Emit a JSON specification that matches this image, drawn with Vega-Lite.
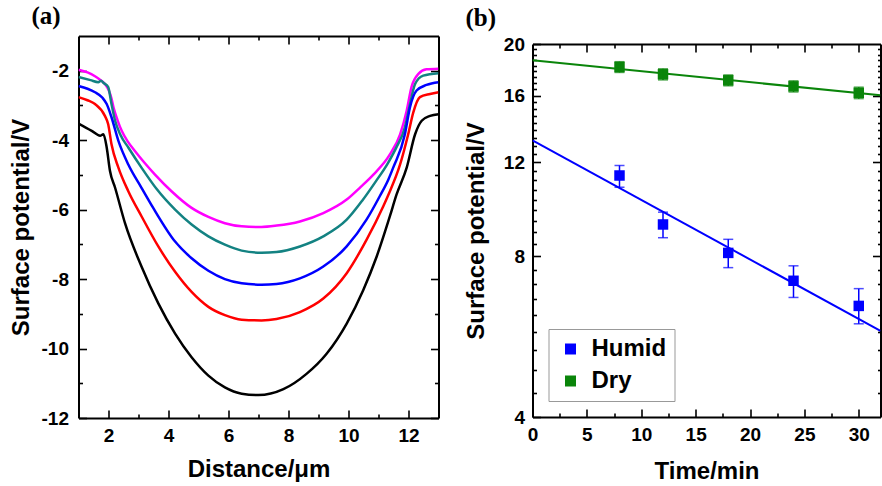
{
  "$schema": "https://vega.github.io/schema/vega-lite/v6.json",
  "padding": {"left": 8.5, "top": 4, "right": 0, "bottom": 0},
  "spacing": 24,
  "resolve": {"scale": {"color": "independent"}},
  "config": {
    "font": "Liberation Sans",
    "view": {"stroke": null},
    "axis": {"grid": false, "domainColor": "black", "domainWidth": 2, "tickColor": "black", "tickWidth": 1.6,
      "labelFont": "Liberation Sans", "labelFontSize": 19, "labelFontWeight": "bold", "labelColor": "black",
      "titleFont": "Liberation Sans", "titleFontSize": 24, "titleFontWeight": "bold", "titleColor": "black",
      "labelOverlap": false, "labelFlush": false, "labelBound": false}
  },
  "datasets": {
    "curves": [
      {"s":"magenta","x":1.0,"v":-1.97},{"s":"magenta","x":1.3,"v":-2.05},{"s":"magenta","x":1.55,"v":-2.16},{"s":"magenta","x":1.75,"v":-2.28},{"s":"magenta","x":1.88,"v":-2.38},{"s":"magenta","x":2.0,"v":-2.55},{"s":"magenta","x":2.1,"v":-2.8},{"s":"magenta","x":2.18,"v":-3.1},{"s":"magenta","x":2.3,"v":-3.42},{"s":"magenta","x":2.44,"v":-3.73},{"s":"magenta","x":2.65,"v":-4.05},{"s":"magenta","x":2.88,"v":-4.31},{"s":"magenta","x":3.2,"v":-4.65},{"s":"magenta","x":3.55,"v":-4.99},{"s":"magenta","x":4.1,"v":-5.47},{"s":"magenta","x":4.77,"v":-5.95},{"s":"magenta","x":5.33,"v":-6.21},{"s":"magenta","x":5.88,"v":-6.39},{"s":"magenta","x":6.44,"v":-6.48},{"s":"magenta","x":7.1,"v":-6.5},{"s":"magenta","x":7.61,"v":-6.46},{"s":"magenta","x":8.38,"v":-6.34},{"s":"magenta","x":9.16,"v":-6.1},{"s":"magenta","x":9.94,"v":-5.71},{"s":"magenta","x":10.4,"v":-5.35},{"s":"magenta","x":10.83,"v":-4.99},{"s":"magenta","x":11.38,"v":-4.41},{"s":"magenta","x":11.72,"v":-3.83},{"s":"magenta","x":11.94,"v":-3.15},{"s":"magenta","x":12.1,"v":-2.47},{"s":"magenta","x":12.33,"v":-2.09},{"s":"magenta","x":12.6,"v":-1.96},{"s":"magenta","x":13.0,"v":-1.94},
      {"s":"teal","x":1.0,"v":-2.18},{"s":"teal","x":1.4,"v":-2.27},{"s":"teal","x":1.66,"v":-2.33},{"s":"teal","x":1.75,"v":-2.29},{"s":"teal","x":1.85,"v":-2.36},{"s":"teal","x":1.99,"v":-2.47},{"s":"teal","x":2.1,"v":-2.96},{"s":"teal","x":2.22,"v":-3.44},{"s":"teal","x":2.4,"v":-3.85},{"s":"teal","x":2.66,"v":-4.21},{"s":"teal","x":3.1,"v":-4.79},{"s":"teal","x":3.6,"v":-5.4},{"s":"teal","x":4.22,"v":-6.0},{"s":"teal","x":4.77,"v":-6.43},{"s":"teal","x":5.33,"v":-6.77},{"s":"teal","x":5.88,"v":-7.01},{"s":"teal","x":6.44,"v":-7.18},{"s":"teal","x":7.1,"v":-7.24},{"s":"teal","x":7.6,"v":-7.22},{"s":"teal","x":8.38,"v":-7.06},{"s":"teal","x":9.16,"v":-6.77},{"s":"teal","x":9.94,"v":-6.29},{"s":"teal","x":10.45,"v":-5.75},{"s":"teal","x":10.9,"v":-5.2},{"s":"teal","x":11.3,"v":-4.68},{"s":"teal","x":11.6,"v":-4.2},{"s":"teal","x":11.88,"v":-3.63},{"s":"teal","x":12.05,"v":-2.96},{"s":"teal","x":12.22,"v":-2.38},{"s":"teal","x":12.49,"v":-2.14},{"s":"teal","x":13.0,"v":-2.07},
      {"s":"blue","x":1.0,"v":-2.44},{"s":"blue","x":1.3,"v":-2.52},{"s":"blue","x":1.55,"v":-2.62},{"s":"blue","x":1.8,"v":-2.78},{"s":"blue","x":1.94,"v":-2.96},{"s":"blue","x":2.1,"v":-3.34},{"s":"blue","x":2.33,"v":-4.02},{"s":"blue","x":2.66,"v":-4.7},{"s":"blue","x":3.1,"v":-5.37},{"s":"blue","x":3.49,"v":-5.95},{"s":"blue","x":4.22,"v":-6.92},{"s":"blue","x":4.77,"v":-7.4},{"s":"blue","x":5.33,"v":-7.76},{"s":"blue","x":5.88,"v":-8.0},{"s":"blue","x":6.44,"v":-8.12},{"s":"blue","x":7.1,"v":-8.16},{"s":"blue","x":7.6,"v":-8.14},{"s":"blue","x":8.38,"v":-7.98},{"s":"blue","x":9.16,"v":-7.64},{"s":"blue","x":9.94,"v":-7.06},{"s":"blue","x":10.6,"v":-6.29},{"s":"blue","x":11.05,"v":-5.6},{"s":"blue","x":11.33,"v":-5.13},{"s":"blue","x":11.49,"v":-4.79},{"s":"blue","x":11.88,"v":-3.83},{"s":"blue","x":12.05,"v":-3.05},{"s":"blue","x":12.27,"v":-2.57},{"s":"blue","x":12.6,"v":-2.41},{"s":"blue","x":13.0,"v":-2.33},
      {"s":"red","x":1.0,"v":-2.76},{"s":"red","x":1.3,"v":-2.85},{"s":"red","x":1.55,"v":-2.96},{"s":"red","x":1.88,"v":-3.3},{"s":"red","x":1.99,"v":-3.54},{"s":"red","x":2.1,"v":-4.12},{"s":"red","x":2.33,"v":-4.79},{"s":"red","x":2.66,"v":-5.47},{"s":"red","x":3.1,"v":-6.19},{"s":"red","x":3.66,"v":-7.06},{"s":"red","x":4.22,"v":-7.79},{"s":"red","x":4.77,"v":-8.37},{"s":"red","x":5.33,"v":-8.8},{"s":"red","x":5.88,"v":-9.04},{"s":"red","x":6.44,"v":-9.17},{"s":"red","x":7.1,"v":-9.19},{"s":"red","x":7.6,"v":-9.15},{"s":"red","x":8.38,"v":-8.95},{"s":"red","x":9.16,"v":-8.56},{"s":"red","x":9.94,"v":-7.83},{"s":"red","x":10.6,"v":-6.87},{"s":"red","x":11.16,"v":-5.9},{"s":"red","x":11.33,"v":-5.57},{"s":"red","x":11.72,"v":-4.7},{"s":"red","x":11.99,"v":-3.83},{"s":"red","x":12.16,"v":-3.2},{"s":"red","x":12.38,"v":-2.76},{"s":"red","x":12.72,"v":-2.67},{"s":"red","x":13.0,"v":-2.62},
      {"s":"black","x":1.0,"v":-3.52},{"s":"black","x":1.44,"v":-3.73},{"s":"black","x":1.72,"v":-3.87},{"s":"black","x":1.83,"v":-3.83},{"s":"black","x":1.94,"v":-4.21},{"s":"black","x":2.05,"v":-4.89},{"s":"black","x":2.22,"v":-5.37},{"s":"black","x":2.55,"v":-6.39},{"s":"black","x":3.1,"v":-7.64},{"s":"black","x":3.66,"v":-8.7},{"s":"black","x":4.22,"v":-9.57},{"s":"black","x":4.77,"v":-10.25},{"s":"black","x":5.33,"v":-10.78},{"s":"black","x":5.88,"v":-11.12},{"s":"black","x":6.44,"v":-11.3},{"s":"black","x":7.0,"v":-11.34},{"s":"black","x":7.83,"v":-11.17},{"s":"black","x":8.6,"v":-10.73},{"s":"black","x":9.27,"v":-10.15},{"s":"black","x":9.94,"v":-9.28},{"s":"black","x":10.49,"v":-8.32},{"s":"black","x":10.94,"v":-7.35},{"s":"black","x":11.38,"v":-6.19},{"s":"black","x":11.6,"v":-5.57},{"s":"black","x":11.94,"v":-4.79},{"s":"black","x":12.22,"v":-3.83},{"s":"black","x":12.44,"v":-3.44},{"s":"black","x":12.72,"v":-3.3},{"s":"black","x":13.0,"v":-3.25}
    ],
    "pts": [
      {"s":"Humid","t":8,"v":11.34,"lo":10.78,"hi":11.84},
      {"s":"Humid","t":12,"v":9.18,"lo":8.67,"hi":9.68},
      {"s":"Humid","t":18,"v":8.12,"lo":7.62,"hi":8.61},
      {"s":"Humid","t":24,"v":7.2,"lo":6.7,"hi":7.68},
      {"s":"Humid","t":30,"v":6.46,"lo":5.98,"hi":6.96},
      {"s":"Dry","t":8,"v":18.11,"lo":17.69,"hi":18.53},
      {"s":"Dry","t":12,"v":17.55,"lo":17.13,"hi":17.97},
      {"s":"Dry","t":18,"v":17.1,"lo":16.7,"hi":17.5},
      {"s":"Dry","t":24,"v":16.66,"lo":16.26,"hi":17.06},
      {"s":"Dry","t":30,"v":16.2,"lo":15.8,"hi":16.6}
    ],
    "fits": [
      {"s":"Humid","t":0,"v":13.2},{"s":"Humid","t":32,"v":5.8},
      {"s":"Dry","t":0,"v":18.64},{"s":"Dry","t":32,"v":16.03}
    ]
  },
  "hconcat": [
    {
      "title": {"text": "(a)", "font": "Liberation Serif", "fontSize": 25, "fontWeight": "bold", "color": "black", "anchor": "start", "frame": "group", "dx": -47, "offset": 6},
      "width": 360,
      "height": 382,
      "data": {"name": "curves"},
      "layer": [
        {
          "mark": {"type": "line", "strokeWidth": 2.5, "interpolate": "monotone", "clip": true},
          "encoding": {
            "x": {"field": "x", "type": "quantitative", "scale": {"domain": [1, 13], "nice": false, "zero": false},
              "axis": {"orient": "bottom", "title": "Distance/μm", "values": [2,3,4,5,6,7,8,9,10,11,12],
                "labelExpr": "datum.value % 2 === 0 ? '' + datum.value : ''",
                "tickSize": {"condition": {"test": "datum.value % 2 === 0", "value": -8}, "value": -4},
                "labelPadding": 16, "titlePadding": 8}},
            "y": {"field": "v", "type": "quantitative", "scale": {"domain": [-12, -1], "nice": false, "zero": false},
              "axis": {"orient": "left", "title": "Surface potential/V", "values": [-12,-11,-10,-9,-8,-7,-6,-5,-4,-3,-2],
                "labelExpr": "datum.value % 2 === 0 ? '' + datum.value : ''",
                "tickSize": {"condition": {"test": "datum.value % 2 === 0", "value": -8}, "value": -4},
                "labelPadding": 18, "titlePadding": 8}},
            "color": {"field": "s", "type": "nominal",
              "scale": {"domain": ["magenta", "teal", "blue", "red", "black"], "range": ["#FF00FF", "#138282", "#0000FF", "#FF0000", "#000000"]},
              "legend": null}
          }
        },
        {
          "mark": {"type": "line", "opacity": 0},
          "encoding": {
            "x": {"field": "x", "type": "quantitative",
              "axis": {"orient": "top", "title": null, "labels": false, "values": [2,3,4,5,6,7,8,9,10,11,12],
                "tickSize": {"condition": {"test": "datum.value % 2 === 0", "value": -8}, "value": -4}}},
            "y": {"field": "v", "type": "quantitative",
              "axis": {"orient": "right", "title": null, "labels": false, "values": [-12,-11,-10,-9,-8,-7,-6,-5,-4,-3,-2],
                "tickSize": {"condition": {"test": "datum.value % 2 === 0", "value": -8}, "value": -4}}},
            "detail": {"field": "s"}
          }
        }
      ],
      "resolve": {"axis": {"x": "independent", "y": "independent"}}
    },
    {
      "title": {"text": "(b)", "font": "Liberation Serif", "fontSize": 25, "fontWeight": "bold", "color": "black", "anchor": "start", "frame": "group", "dx": -67, "offset": 4},
      "width": 348,
      "height": 381,
      "layer": [
        {
          "data": {"name": "pts"},
          "mark": {"type": "point", "shape": "square", "filled": true, "size": 110, "opacity": 1},
          "encoding": {
            "x": {"field": "t", "type": "quantitative", "scale": {"domain": [0, 32], "nice": false, "zero": false},
              "axis": {"orient": "bottom", "title": "Time/min", "values": [0,2.5,5,7.5,10,12.5,15,17.5,20,22.5,25,27.5,30],
                "labelExpr": "datum.value % 5 === 0 ? '' + datum.value : ''",
                "tickSize": {"condition": {"test": "datum.value % 5 === 0", "value": -8}, "value": -4},
                "labelPadding": 16, "titlePadding": 11}},
            "y": {"field": "v", "type": "quantitative", "scale": {"type": "log", "domain": [4, 20], "range": [381, 8], "nice": false, "zero": false},
              "axis": {"orient": "left", "title": "Surface potential/V",
                "values": [4,4.444,4.889,5.333,5.778,6.222,6.667,7.111,7.556,8,8.444,8.889,9.333,9.778,10.222,10.667,11.111,11.556,12,12.444,12.889,13.333,13.778,14.222,14.667,15.111,15.556,16,16.444,16.889,17.333,17.778,18.222,18.667,19.111,19.556,20],
                "labelExpr": "abs(datum.value % 4) < 0.001 ? '' + datum.value : ''",
                "tickSize": {"condition": {"test": "abs(datum.value % 4) < 0.001", "value": -8}, "value": -4},
                "labelPadding": 16, "titlePadding": 15}},
            "color": {"field": "s", "type": "nominal", "scale": {"domain": ["Humid", "Dry"], "range": ["#0000FF", "#0A850A"]},
              "legend": {"orient": "bottom-left", "offset": 16, "title": null, "strokeColor": "#999999", "padding": 8,
                "symbolType": "square", "symbolSize": 121, "symbolOffset": 2, "symbolStrokeWidth": 0, "labelOffset": 9,
                "labelFont": "Liberation Sans", "labelFontSize": 24, "labelFontWeight": "bold", "labelColor": "black", "rowPadding": 8}}
          }
        },
        {
          "data": {"name": "fits"},
          "mark": {"type": "line", "strokeWidth": 2, "clip": true},
          "encoding": {
            "x": {"field": "t", "type": "quantitative", "axis": null},
            "y": {"field": "v", "type": "quantitative", "axis": null},
            "color": {"field": "s", "type": "nominal", "legend": null}
          }
        },
        {
          "data": {"name": "pts"},
          "mark": {"type": "rule", "strokeWidth": 1.5},
          "encoding": {
            "x": {"field": "t", "type": "quantitative", "axis": null},
            "y": {"field": "lo", "type": "quantitative", "axis": null},
            "y2": {"field": "hi"},
            "color": {"field": "s", "type": "nominal", "legend": null}
          }
        },
        {
          "data": {"name": "pts"},
          "mark": {"type": "tick", "orient": "horizontal", "size": 10, "thickness": 1.5},
          "encoding": {
            "x": {"field": "t", "type": "quantitative", "axis": null},
            "y": {"field": "lo", "type": "quantitative", "axis": null},
            "color": {"field": "s", "type": "nominal", "legend": null}
          }
        },
        {
          "data": {"name": "pts"},
          "mark": {"type": "tick", "orient": "horizontal", "size": 10, "thickness": 1.5},
          "encoding": {
            "x": {"field": "t", "type": "quantitative", "axis": null},
            "y": {"field": "hi", "type": "quantitative", "axis": null},
            "color": {"field": "s", "type": "nominal", "legend": null}
          }
        },
        {
          "data": {"name": "fits"},
          "mark": {"type": "line", "opacity": 0},
          "encoding": {
            "x": {"field": "t", "type": "quantitative",
              "axis": {"orient": "top", "offset": -8, "title": null, "labels": false, "values": [2.5,5,7.5,10,12.5,15,17.5,20,22.5,25,27.5,30],
                "tickSize": {"condition": {"test": "datum.value % 5 === 0", "value": -8}, "value": -4}}},
            "y": {"field": "v", "type": "quantitative",
              "axis": {"orient": "right", "title": null, "labels": false,
                "values": [4.444,4.889,5.333,5.778,6.222,6.667,7.111,7.556,8,8.444,8.889,9.333,9.778,10.222,10.667,11.111,11.556,12,12.444,12.889,13.333,13.778,14.222,14.667,15.111,15.556,16,16.444,16.889,17.333,17.778,18.222,18.667,19.111,19.556],
                "tickSize": {"condition": {"test": "abs(datum.value % 4) < 0.001", "value": -8}, "value": -3}}},
            "detail": {"field": "s"}
          }
        }
      ],
      "resolve": {"axis": {"x": "independent", "y": "independent"}}
    }
  ]
}
